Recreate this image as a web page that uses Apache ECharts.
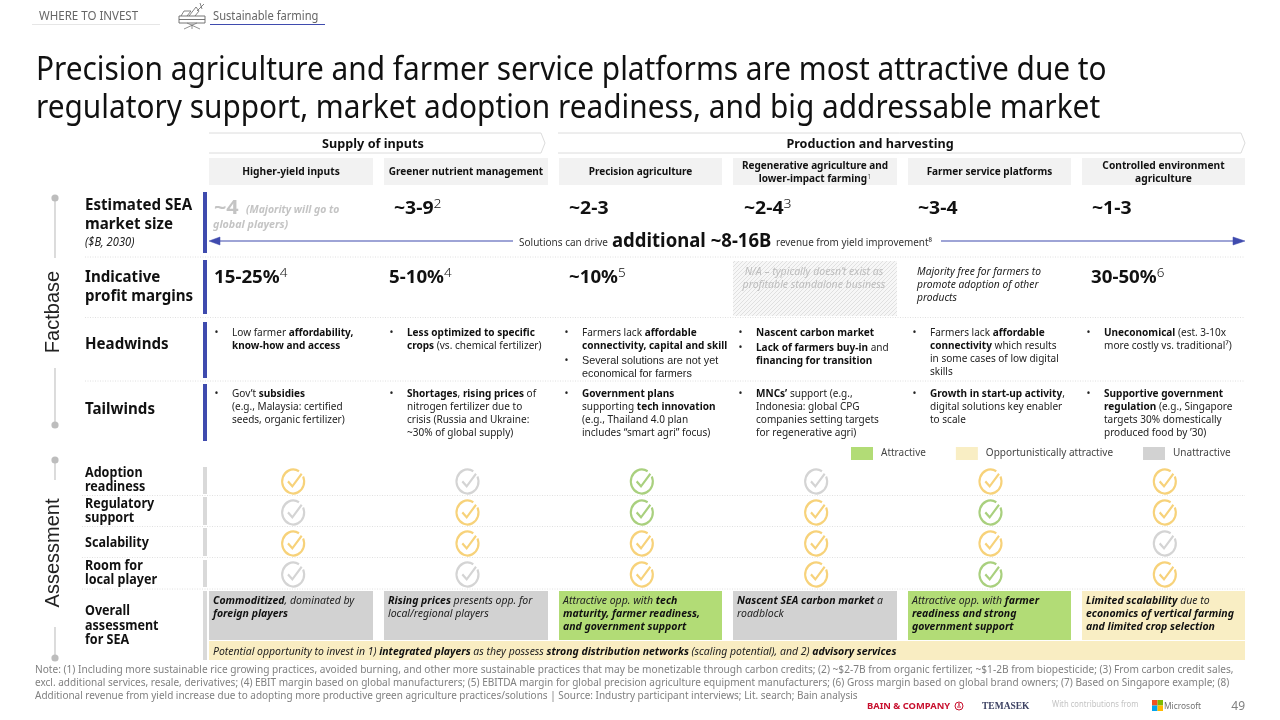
<!DOCTYPE html>
<html><head><meta charset="utf-8">
<style>html,body{margin:0;padding:0;background:#fff}#c{width:1280px;height:720px}</style>
<script src="https://cdn.jsdelivr.net/npm/echarts@6/dist/echarts.min.js"></script>
</head><body><div id="c"></div>
<script>
// ---------- chart data ----------
const solutions = ['Higher-yield inputs','Greener nutrient management','Precision agriculture','Regenerative agriculture','Farmer service platforms','Controlled environment agriculture'];
const criteria = ['Adoption readiness','Regulatory support','Scalability','Room for local player'];
const adoptionRatings    = ['O','U','A','U','O','O'];
const regulatoryRatings  = ['U','O','A','O','A','O'];
const scalabilityRatings = ['O','O','O','O','O','U'];
const roomRatings        = ['U','U','O','O','A','O'];
const ratingNames = {A:'Attractive',O:'Opportunistically attractive',U:'Unattractive'};
const title = ['Precision agriculture and farmer service platforms are most attractive due to','regulatory support, market adoption readiness, and big addressable market'];
const headers = [['Higher-yield inputs'],['Greener nutrient management'],['Precision agriculture'],['Regenerative agriculture and','lower-impact farming^1^'],['Farmer service platforms'],['Controlled environment','agriculture']];
const marketSize = ['~3-9^2^','~2-3','~2-4^3^','~3-4','~1-3'];
const margins = ['15-25%^4^','5-10%^4^','~10%^5^',null,null,'30-50%^6^'];
const headwinds = [
 [[332,'Low farmer **affordability,**',1],[345,'**know-how and access**']],
 [[332,'**Less optimized to specific**',1],[345,'**crops** (vs. chemical fertilizer)']],
 [[332,'Farmers lack **affordable**',1],[345,'**connectivity, capital and skill**'],[360,'Several solutions are not yet',1,'arial'],[373,'economical for farmers',0,'arial']],
 [[332,'**Nascent carbon market**',1],[347,'**Lack of farmers buy-in** and',1],[360,'**financing for transition**']],
 [[332,'Farmers lack **affordable**',1],[345,'**connectivity** which results'],[358,'in some cases of low digital'],[371,'skills']],
 [[332,'**Uneconomical** (est. 3-10x',1],[345,'more costly vs. traditional⁷)']]];
const tailwinds = [
 [[393,'Gov’t **subsidies**',1],[406,'(e.g., Malaysia: certified'],[419,'seeds, organic fertilizer)']],
 [[393,'**Shortages**, **rising prices** of',1],[406,'nitrogen fertilizer due to'],[419,'crisis (Russia and Ukraine:'],[432,'~30% of global supply)']],
 [[393,'**Government plans**',1],[406,'supporting **tech innovation**'],[419,'(e.g., Thailand 4.0 plan'],[432,'includes “smart agri” focus)']],
 [[393,'**MNCs’** support (e.g.,',1],[406,'Indonesia: global CPG'],[419,'companies setting targets'],[432,'for regenerative agri)']],
 [[393,'**Growth in start-up activity**,',1],[406,'digital solutions key enabler'],[419,'to scale']],
 [[393,'**Supportive government**',1],[406,'**regulation** (e.g., Singapore'],[419,'targets 30% domestically'],[432,'produced food by ’30)']]];
const overallText = [
 ['**Commoditized**, dominated by','**foreign players**'],
 ['**Rising prices** presents opp. for','local/regional players'],
 ['Attractive opp. with **tech**','**maturity, farmer readiness,**','**and government support**'],
 ['**Nascent SEA carbon market** a','roadblock'],
 ['Attractive opp. with **farmer**','**readiness and strong**','**government support**'],
 ['**Limited scalability** due to','**economics of vertical farming**','**and limited crop selection**']];
const overallRating = ['U','U','A','U','A','O'];
const notes = ['Note: (1) Including more sustainable rice growing practices, avoided burning, and other more sustainable practices that may be monetizable through carbon credits; (2) ~$2-7B from organic fertilizer, ~$1-2B from biopesticide; (3) From carbon credit sales,',
 'excl. additional services, resale, derivatives; (4) EBIT margin based on global manufacturers; (5) EBITDA margin for global precision agriculture equipment manufacturers; (6) Gross margin based on global brand owners; (7) Based on Singapore example; (8)',
 'Additional revenue from yield increase due to adopting more productive green agriculture practices/solutions | Source: Industry participant interviews; Lit. search; Bain analysis'];

// ---------- helpers ----------
const FONT='"Noto Sans"', BLUE='#3f4bae', SX=0.93;
const g=[];
function L(x,y,s,o){o=o||{};
  const size=o.size||11, color=o.color||'#222', ff=o.font||FONT, it=o.italic?'italic':'normal';
  const boldW=o.bw||700, baseW=o.bold?boldW:(o.weight||400);
  const rich={n:{fontSize:size,fontFamily:ff,fontStyle:it,fontWeight:baseW,fill:color,color:color},
    b:{fontSize:size,fontFamily:ff,fontStyle:it,fontWeight:boldW,fill:o.bcolor||color,color:o.bcolor||color},
    s:{fontSize:size*0.72,fontFamily:ff,fontStyle:'normal',fontWeight:300,fill:color,color:color,verticalAlign:'top',lineHeight:size*1.2},
    ...(o.rich||{})};
  let out='';
  s.split(/(\*\*.*?\*\*|\^.*?\^|\{\w+\|.*?\})/).forEach(p=>{ if(!p)return;
    if(p.startsWith('**')) out+='{b|'+p.slice(2,-2)+'}';
    else if(p.startsWith('^')) out+='{s|'+p.slice(1,-1)+'}';
    else if(p.startsWith('{')) out+=p;
    else out+='{n|'+p+'}';});
  const dy=o.rot?0:0.5+size*0.05;
  g.push({type:'text',silent:true,x:x,y:y+dy,scaleX:o.sx||SX,rotation:o.rot||0,z:10,
    style:{text:out,rich:rich,fontFamily:ff,fontSize:size,fill:color,align:o.align||'left',verticalAlign:'middle'}});
}
function R(x,y,w,h,c,z){g.push({type:'rect',silent:true,z:z||1,shape:{x,y,width:w,height:h},style:{fill:c}});}
function Ln(x1,y1,x2,y2,c,w,d){g.push({type:'line',silent:true,z:2,shape:{x1,y1,x2,y2},style:{stroke:c,lineWidth:w||1,lineDash:d||null}});}
function Poly(pts,c,w,fill,closed){g.push({type:closed?'polygon':'polyline',silent:true,z:2,shape:{points:pts},style:{stroke:c,lineWidth:w||1,fill:fill||'none'}});}
function Dot(x,y){g.push({type:'circle',silent:true,z:3,shape:{cx:x,cy:y,r:3.6},style:{fill:'#bdbdbd'}});}

const colX=[209,384,559,733,908,1082], colW=[164,164,163,164,163,163];
const fills={A:'#b2dc76',O:'#f9eec4',U:'#d2d2d2'};
const checks={A:'#a9d07e',O:'#f7d27a',U:'#d4d4d4'};

// top strip
L(39,15.5,'WHERE TO INVEST',{size:12,color:'#666',sx:0.96});
g.push({type:'rect',silent:true,shape:{x:32,y:24,width:128,height:1},style:{fill:'#e6e6e6'}});
L(213,15,'Sustainable farming',{size:12,color:'#666',sx:0.93});
Ln(210,24.5,325,24.5,BLUE,1);
// icon
Poly([[179,16],[205,16],[205,23],[179,23],[179,16]],'#666',.9);Ln(179,19.5,205,19.5,'#666',.9);
Ln(184,29,197,23,'#777',.8);Ln(200,29,187,23,'#777',.8);Ln(192,29,192,24,'#777',.8);
Poly([[181,16],[184,11],[191,11],[187,16]],'#666',.8);Poly([[189,16],[196,7],[199,11],[195,16]],'#666',.8);Ln(197,11,204,4,'#666',.8);Ln(200,3,202,9,'#666',.8);

// title
L(36,68,title[0],{size:33,color:'#111',sx:0.903});
L(36,106,title[1],{size:33,color:'#111',sx:0.903});

// chevrons
Poly([[209,133],[541,133],[545,143],[541,153],[209,153]],'#dcdcdc',1);
Poly([[558,133],[1241,133],[1245,143],[1241,153],[558,153]],'#dcdcdc',1);
L(373,143,'Supply of inputs',{size:13,bold:1,align:'center',color:'#111',sx:.975});
L(870,143,'Production and harvesting',{size:13,bold:1,align:'center',color:'#111',sx:.97});

// column headers
headers.forEach((h,i)=>{R(colX[i],158,colW[i],27,'#f2f2f2');
  const cx=colX[i]+colW[i]/2;
  const sx=i==0||i==5?.93:.91;
  if(h.length==1)L(cx,171,h[0],{size:11,bold:1,align:'center',color:'#111',sx});
  else{L(cx,165,h[0],{size:11,bold:1,align:'center',color:'#111',sx});L(cx,178,h[1],{size:11,bold:1,align:'center',color:'#111',sx});}
});

// timeline
Ln(55,198,55,258,'#c4c4c4',1.2);Dot(55,198);
L(53,312,'Factbase',{size:20,font:'"Liberation Sans"',color:'#222',align:'center',rot:Math.PI/2,sx:1});
Ln(55,368,55,425,'#c4c4c4',1.2);Dot(55,425);
Ln(55,460,55,480,'#c4c4c4',1.2);Dot(55,460);
L(53,553,'Assessment',{size:20,font:'"Liberation Sans"',color:'#222',align:'center',rot:Math.PI/2,sx:1});
Ln(55,627,55,658,'#c4c4c4',1.2);Dot(55,658);

// row bars
[[192,253],[260,314],[322,378],[384,441]].forEach(b=>R(203,b[0],4,b[1]-b[0],BLUE,3));
[[467,494],[497,525],[528,556],[560,587],[591,660]].forEach(b=>R(203,b[0],4,b[1]-b[0],'#d9d9d9',3));
// separators
[257,317.5,381].forEach(y=>Ln(85,y,1245,y,'#d8d8d8',.8,[1,1.5]));
[495.5,526.5,557.5,589].forEach(y=>Ln(82,y,1245,y,'#d8d8d8',.8,[1,1.5]));

// row labels
const LB={size:15.5,bold:1,color:'#111',sx:.975};
L(85,204.5,'Estimated SEA',LB);L(85,223.5,'market size',LB);L(85,241,'($B, 2030)',{size:12,italic:1,color:'#222'});
L(85,276.5,'Indicative',LB);L(85,295.5,'profit margins',LB);
L(85,343.5,'Headwinds',LB);L(85,408.5,'Tailwinds',LB);
const LA={size:13.5,bold:1,color:'#111'};
[[472,'Adoption'],[486,'readiness'],[503,'Regulatory'],[517,'support'],[542,'Scalability'],[565,'Room for'],[579,'local player'],[610,'Overall'],[625,'assessment'],[639,'for SEA']].forEach(a=>L(85,a[0]-.5,a[1],LA));

// market size row
L(214,207,'**~4**',{size:20,color:'#c4c4c4',sx:1.08});
L(246,209,'**(Majority will go to**',{size:10.5,italic:1,color:'#c4c4c4',sx:.99});
L(213,224,'**global players)**',{size:10.5,italic:1,color:'#c4c4c4',sx:1.02});
[394,569,744,918,1092].forEach((x,i)=>L(x,207,'**'+marketSize[i].replace(/\^.*/,'')+'**'+(marketSize[i].match(/\^.*\^/)||[''])[0],{size:18,color:'#111',sx:1.08}));
// arrow
Ln(218,241,513,241,BLUE,1.2);Ln(941,241,1236,241,BLUE,1.2);
Poly([[209,241],[220,237],[220,245]],BLUE,.5,BLUE,true);Poly([[1245,241],[1233,237],[1233,245]],BLUE,.5,BLUE,true);
L(519,241.5,'Solutions can drive',{size:11,color:'#333',sx:.91});
L(612,240,'**additional ~8-16B**',{size:19,color:'#111',sx:.975});
L(776,241.5,'revenue from yield improvement⁸',{size:11,color:'#333',sx:.90});

// margins row
[214,389,569,null,null,1091].forEach((x,i)=>{if(x)L(x,276.5,'**'+margins[i].replace(/\^.*/,'')+'**'+margins[i].match(/\^.*\^/)[0],{size:18,color:'#111',sx:1.04});});
const pc=document.createElement('canvas');pc.width=pc.height=4;{const c=pc.getContext('2d');c.fillStyle='#f7f7f7';c.fillRect(0,0,4,4);c.strokeStyle='#d9d9d9';c.lineWidth=.8;c.beginPath();c.moveTo(-1,1);c.lineTo(1,-1);c.moveTo(0,4);c.lineTo(4,0);c.moveTo(3,5);c.lineTo(5,3);c.stroke();}
g.push({type:'rect',silent:true,z:1,shape:{x:733,y:261,width:164,height:55},style:{fill:{image:pc,repeat:'repeat'}}});
L(814,270.5,'N/A – typically doesn’t exist as',{size:10.5,italic:1,color:'#bdbdbd',align:'center',sx:1});
L(814,283.5,'profitable standalone business',{size:10.5,italic:1,color:'#bdbdbd',align:'center',sx:1});
['Majority free for farmers to','promote adoption of other','products'].forEach((t,i)=>L(917,270.5+13*i,t,{size:10.5,italic:1,color:'#222',sx:.977}));

// bullets
const bx=[214.5,389.5,564.5,738.5,912.5,1086.5], tx=[232,407,582,756,930,1104];
[headwinds,tailwinds].forEach(block=>block.forEach((col,i)=>col.forEach(l=>{
  if(l[2])L(bx[i],l[0]-.5,'•',{size:10.5,color:'#222',sx:1});
  if(l[3])L(tx[i],l[0]-.5,l[1],{size:10.8,color:'#222',font:'"Liberation Sans"',sx:1});
  else L(tx[i],l[0]-.5,l[1],{size:10.8,color:'#222',bcolor:'#111'});
})));

// overall boxes
overallText.forEach((c,i)=>{R(colX[i],591,colW[i],49,fills[overallRating[i]]);
  c.forEach((t,j)=>L(colX[i]+4,600+13*j,t,{size:11,italic:1,color:'#222',bcolor:'#111',sx:.955}));});
R(209,641,1036,19,'#f9edc2');
L(213,650.5,'Potential opportunity to invest in 1) **integrated players** as they possess **strong distribution networks** (scaling potential), and 2) **advisory services**',{size:11,italic:1,color:'#222',bcolor:'#111',sx:.951});

// footnote
const noteSx=[.92,.911,.907];
notes.forEach((n,i)=>L(35,668.5+13*i,n,{size:11,color:'#808080',sx:noteSx[i]}));

// footer logos
L(867,706,'BAIN & COMPANY',{size:8.5,bold:1,color:'#c8102e',sx:1.1});
g.push({type:'circle',silent:true,shape:{cx:959,cy:706,r:4},style:{fill:'none',stroke:'#c8102e',lineWidth:1}});
Ln(959,703,959,706,'#c8102e',1.2);Ln(957,707,961,707,'#c8102e',1);
L(982,706,'TEMASEK',{size:9.5,bold:1,font:'"Liberation Serif"',color:'#3d4263',sx:1});
L(1052,703.5,'With contributions from',{size:8,color:'#c4c4c4',sx:.96});
R(1152,700,5.5,5.5,'#f25022');R(1157.5,700,5.5,5.5,'#7fba00');R(1152,705.5,5.5,5.5,'#00a4ef');R(1157.5,705.5,5.5,5.5,'#ffb900');
L(1164,705.5,'Microsoft',{size:9,color:'#737373',sx:.93});
L(1245,705.5,'49',{size:12,color:'#808080',align:'right',sx:1});

// ---------- scatter of ratings drawn via axes ----------
const ratingRows=[adoptionRatings,regulatoryRatings,scalabilityRatings,roomRatings];
const checkPath='path://M21.4 7.4A10.6 10.6 0 1 1 17.4 2.9M6.8 11.8L11 16.2L20 5';
function points(code){const out=[];ratingRows.forEach((r,ri)=>r.forEach((v,ci)=>{if(v===code)out.push([solutions[ci],criteria[ri]]);}));return out;}
const series=['A','O','U'].map(code=>({type:'scatter',name:ratingNames[code],data:points(code),symbol:checkPath,symbolSize:[22,24],symbolKeepAspect:false,silent:true,
  itemStyle:{color:'rgba(0,0,0,0)',borderColor:checks[code],borderWidth:2.2,opacity:1},z:5}));

const chart=echarts.init(document.getElementById('c'),null,{renderer:'canvas'});
chart.setOption({animation:false,backgroundColor:'#fff',
 grid:{left:206,width:1046,top:466,height:124},
 xAxis:{type:'category',data:solutions,show:false},
 yAxis:{type:'category',data:criteria,inverse:true,show:false},
 legend:{left:846,top:442,itemWidth:22,itemHeight:13,itemGap:30,selectedMode:false,
   textStyle:{fontFamily:FONT,fontSize:10,color:'#444',padding:[0,0,0,3]},
   data:['A','O','U'].map(c=>({name:ratingNames[c],icon:'rect',itemStyle:{color:fills[c],borderWidth:0}}))},
 series:series, graphic:{elements:g}});
</script></body></html>
